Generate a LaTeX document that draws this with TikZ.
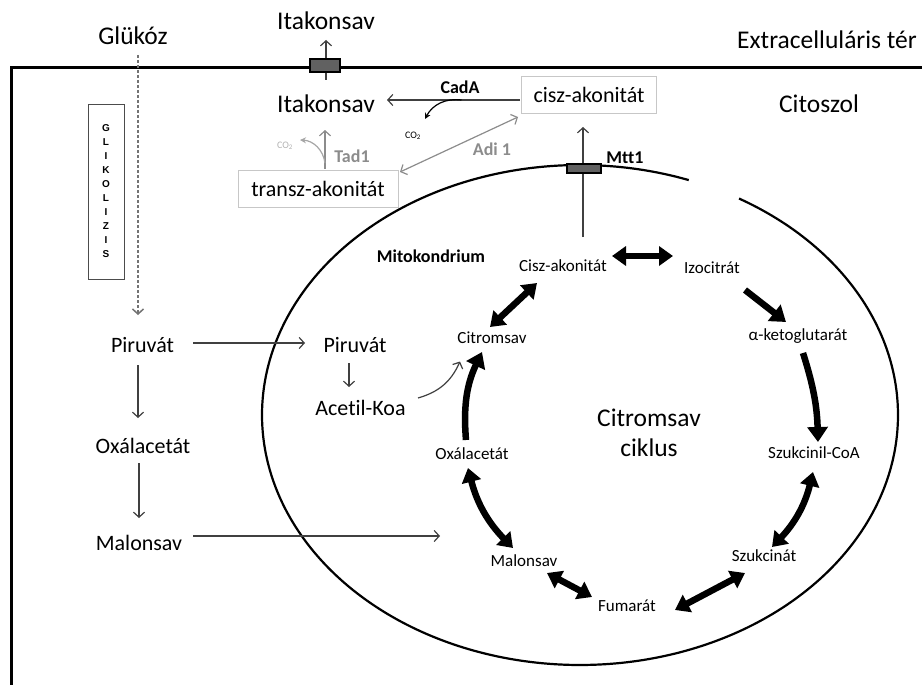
\documentclass[tikz,border=0pt]{standalone}
\usepackage{fontspec}
\setmainfont{Carlito}[Ligatures=CommonOff]
\newfontfamily\arialfont{Liberation Sans}
\usetikzlibrary{arrows.meta,calc}

\begin{document}
\begin{tikzpicture}[x=1pt, y=-1pt,
  bigtext/.style={font=\fontsize{25.5}{30}\selectfont, inner sep=1pt},
  midtext/.style={font=\fontsize{22}{26}\selectfont, inner sep=1pt},
  cyctext/.style={font=\fontsize{17}{20}\selectfont, inner sep=1pt},
  enzyme/.style={font=\bfseries\fontsize{18}{21}\selectfont, inner sep=1pt},
  co2text/.style={font=\fontsize{10}{12}\selectfont, inner sep=1pt},
  membox/.style={draw=black!22, line width=0.8pt, minimum height=37pt},
  pump/.style={draw=black, line width=1.4pt, fill=black!62, inner sep=0pt},
  flow/.style={draw=black!75, line width=1.2pt, -{Straight Barb[length=5pt,width=11pt]}},
  grayflow/.style={flow, draw=black!45},
  grayboth/.style={grayflow, {Straight Barb[length=5pt,width=11pt]}-{Straight Barb[length=5pt,width=11pt]}},
  cycarrow/.style={line width=6.5pt, -{Triangle[length=15pt,width=20pt]}},
  cycboth/.style={line width=6.5pt, {Triangle[length=14pt,width=19pt]}-{Triangle[length=14pt,width=19pt]}}]

  \useasboundingbox (0,0) rectangle (922,685);

  % cell membrane and mitochondrion
  \draw[line width=3pt] (922,68) -- (11,68) -- (11,685);
  \draw[line width=2.2pt] plot[domain=70:420, samples=160, smooth]
    ({580+318*cos(\x)},{415-250*sin(\x)});

  % outside / cytosol labels
  \node[bigtext] (glukoz) at (133,36) {Glükóz};
  \node[bigtext] (itaout) at (326,21) {Itakonsav};
  \node[bigtext] (itain) at (326,103.5) {Itakonsav};
  \node[bigtext] (extra) at (827,40) {Extracelluláris tér};
  \node[bigtext] (citoszol) at (819,104) {Citoszol};
  \node[midtext, membox, minimum width=135pt] (cisz) at (589,94.5) {cisz-akonitát};
  \node[midtext, membox, minimum width=160pt] (trans) at (318,188.5) {transz-akonitát};

  \node[enzyme] (cada) at (460,87) {CadA};
  \node[enzyme, text=black!45] (tad1) at (352,156) {Tad1};
  \node[enzyme, text=black!45] (adi) at (492,149) {Adi 1};
  \node[enzyme] (mtt1) at (625,158) {Mtt1};
  \node[co2text] (co2a) at (413,136) {CO\textsubscript{2}};
  \node[co2text, text=black!30] (co2b) at (285,146) {CO\textsubscript{2}};

  % glycolysis column
  \node[draw=black!70, line width=0.9pt, minimum width=36pt, minimum height=175pt, align=center,
        font=\arialfont\bfseries\fontsize{10}{14}\selectfont] (glik) at (106,191.5)
        {G\\L\\I\\K\\O\\L\\I\\Z\\I\\S};
  \node[midtext] (piru1) at (142.5,345.5) {Piruvát};
  \node[midtext] (oxal1) at (143,445.5) {Oxálacetát};
  \node[midtext] (malon1) at (139,542.5) {Malonsav};
  \node[midtext] (piru2) at (355,345.5) {Piruvát};
  \node[midtext] (acetil) at (360.5,407.5) {Acetil-Koa};
  \coordinate (malonend) at (440,536);

  % citric acid cycle
  \node[enzyme] (mito) at (431,256) {Mitokondrium};
  \node[cyctext] (cisz2) at (563,266) {Cisz-akonitát};
  \node[cyctext] (izo) at (712,268) {Izocitrát};
  \node[cyctext] (aketo) at (798,336) {α-ketoglutarát};
  \node[cyctext] (szcoa) at (814,453) {Szukcinil-CoA};
  \node[cyctext] (szukc) at (764,556) {Szukcinát};
  \node[cyctext] (fum) at (627,606) {Fumarát};
  \node[cyctext] (malon2) at (524,561) {Malonsav};
  \node[cyctext] (oxal2) at (472,454) {Oxálacetát};
  \node[cyctext] (citrom) at (492,338) {Citromsav};
  \node[bigtext, align=center] (ciklus) at (649,433) {Citromsav\\ciklus};

  % cytosol arrows
  \draw[flow] ($(itain)+(0,-23.5)$) -- ($(itaout)+(0,19)$);
  \draw[flow] ($(cisz)+(-69,5.5)$) -- coordinate[pos=0.44] (cadsplit) ($(itain)+(61,-3.5)$);
  \draw[black, line width=1.2pt, -{Stealth[length=6pt,width=6pt]}]
    (cadsplit) to[bend right=35] ($(co2a)+(12,-17)$);
  \draw[grayflow] ($(trans)+(7,-20)$) -- coordinate[pos=0.14] (tadsplit) ($(itain)+(-1,26.5)$);
  \draw[black!35, line width=1.2pt, -{Stealth[length=6pt,width=6pt]}]
    (tadsplit) to[bend right=40] ($(co2b)+(15,-6)$);
  \draw[grayboth] ($(trans)+(82,-16.5)$) -- ($(cisz)+(-71,22.5)$);
  \draw[flow] ($(cisz2)+(20,-29)$) -- ($(cisz)+(-6,32.5)$);

  \draw[flow, draw=black!55, dash pattern=on 3pt off 2pt, line width=1.5pt]
    ($(glukoz)+(5,19)$) -- ($(piru1)+(-4.5,-30.5)$);
  \draw[flow] ($(piru1)+(-4.5,19.5)$) -- ($(oxal1)+(-5,-27.5)$);
  \draw[flow] ($(oxal1)+(-4,17.5)$) -- ($(malon1)+(0,-24.5)$);
  \draw[flow] ($(piru1)+(50.5,-2.5)$) -- ($(piru2)+(-50,-2.5)$);
  \draw[flow] ($(piru2)+(-6,17.5)$) -- ($(acetil)+(-11.5,-20.5)$);
  \draw[flow] ($(acetil)+(57.5,-9.5)$) to[bend right=25] ($(citrom)+(-32,23.5)$);
  \draw[flow] ($(malon1)+(54,-6.5)$) -- (malonend);

  % transporters
  \node[pump, minimum width=30pt, minimum height=13pt] (pumpita) at (325,65.5) {};
  \node[pump, minimum width=34pt, minimum height=9pt] (pumpmtt) at (584,168.5) {};

  % cycle arrows
  \draw[cycboth] ($(cisz2)+(49,-10)$) -- ($(izo)+(-39,-12)$);
  \draw[cycarrow] ($(izo)+(33,22)$) -- ($(aketo)+(-12,-14)$);
  \draw[cycarrow] ($(aketo)+(5,17)$) to[bend left=8] ($(szcoa)+(4,-11)$);
  \draw[cycboth] ($(szcoa)+(-1,19)$) to[bend left=15] ($(szukc)+(8,-9)$);
  \draw[cycboth] ($(szukc)+(-19,17)$) -- ($(fum)+(48,4)$);
  \draw[cycboth] ($(fum)+(-35,-9)$) -- ($(malon2)+(23,12)$);
  \draw[cycboth] ($(malon2)+(-11,-13)$) to[bend left=15] ($(oxal2)+(-4,14)$);
  \draw[cycarrow] ($(oxal2)+(-6,-14)$) to[bend left=15] ($(citrom)+(-10,14)$);
  \draw[cycboth] ($(citrom)+(-2,-11)$) -- ($(cisz2)+(-26,17)$);

\end{tikzpicture}
\end{document}
